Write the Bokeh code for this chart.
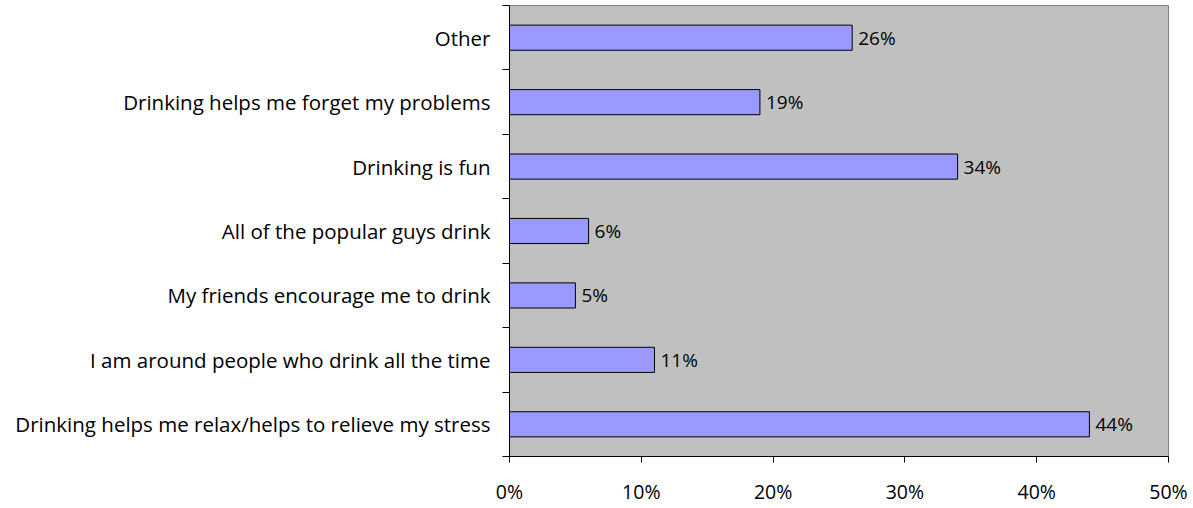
from bokeh.plotting import figure
from bokeh.models import Range1d, FixedTicker, PrintfTickFormatter, ColumnDataSource
from bokeh.core.properties import value
from bokeh.embed import file_html
from bokeh.resources import INLINE

categories = [
    "Drinking helps me relax/helps to relieve my stress",
    "I am around people who drink all the time",
    "My friends encourage me to drink",
    "All of the popular guys drink",
    "Drinking is fun",
    "Drinking helps me forget my problems",
    "Other",
]
percent = [44, 11, 5, 6, 34, 19, 26]
x_ticks = [0, 10, 20, 30, 40, 50]

FONT = "Open Sans"

ypos = [i + 0.5 for i in range(len(categories))]
src = ColumnDataSource(dict(y=ypos, v=percent, lab=[f"{v}%" for v in percent]))

p = figure(width=1192, height=507, output_backend="svg", toolbar_location=None,
           x_range=Range1d(0, 50), y_range=Range1d(0, len(categories)),
           min_border_left=509, min_border_right=24, min_border_top=5, min_border_bottom=49)

p.background_fill_color = "#C0C0C0"
p.border_fill_color = "white"
p.outline_line_color = "#808080"
p.outline_line_width = 1
p.xgrid.visible = False
p.ygrid.visible = False

p.hbar(y="y", right="v", left=0, height=0.39, source=src,
       fill_color="#9999FF", line_color="black", line_width=1)
p.text(x="v", y="y", text="lab", source=src, x_offset=6, text_baseline="middle",
       text_align="left", text_font=value(FONT), text_font_size="19px", text_color="black")

# y axis
p.yaxis.ticker = FixedTicker(ticks=ypos, minor_ticks=list(range(len(categories) + 1)))
p.yaxis.major_label_overrides = {y: c for y, c in zip(ypos, categories)}
p.yaxis.major_tick_out = 0
p.yaxis.major_tick_in = 0
p.yaxis.minor_tick_out = 7
p.yaxis.minor_tick_in = 0
p.yaxis.minor_tick_line_color = "black"
p.yaxis.axis_line_color = "black"
p.yaxis.major_label_standoff = 12
p.yaxis.major_label_text_font = FONT
p.yaxis.major_label_text_font_size = "20.5px"
p.yaxis.major_label_text_color = "black"

# x axis
p.xaxis.ticker = FixedTicker(ticks=x_ticks, minor_ticks=[])
p.xaxis.formatter = PrintfTickFormatter(format="%d%%")
p.xaxis.major_tick_out = 6
p.xaxis.major_tick_in = 0
p.xaxis.minor_tick_out = 0
p.xaxis.minor_tick_in = 0
p.xaxis.axis_line_color = "black"
p.xaxis.major_label_standoff = 15
p.xaxis.major_label_text_font = FONT
p.xaxis.major_label_text_font_size = "19.5px"
p.xaxis.major_label_text_color = "black"

open("out.html", "w").write(file_html(p, INLINE))
